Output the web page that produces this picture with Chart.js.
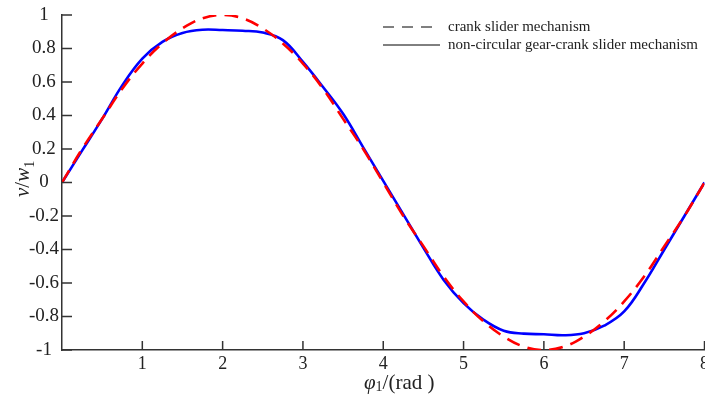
<!DOCTYPE html>
<html>
<head>
<meta charset="utf-8">
<script src="https://cdn.jsdelivr.net/npm/chart.js@4/dist/chart.umd.min.js"></script>
<style>
  html, body { margin: 0; padding: 0; background: #fff; overflow: hidden; }
  #wrap { width: 712px; height: 396px; }
</style>
</head>
<body>
<div id="wrap"><canvas id="c" width="712" height="396"></canvas></div>
<script>
/* velocity ratio v/w1 against crank angle, two mechanisms */
const AXIS = '#333333', INK = '#222222';
const SERIF = '"Liberation Serif","Times New Roman",serif';

const PHI = [0, 0.25, 0.5, 0.75, 1, 1.25, 1.5, 1.75, 2, 2.25, 2.5, 2.75, 3, 3.25, 3.5, 3.75, 4,
  4.25, 4.5, 4.75, 5, 5.25, 5.5, 5.75, 6, 6.25, 6.5, 6.75, 7, 7.25, 7.5, 7.75, 8];
const CRANK = [0, 0.2, 0.38, 0.56, 0.71, 0.83, 0.92, 0.98, 1, 0.98, 0.92, 0.83, 0.71, 0.56, 0.38, 0.2, 0,
  -0.2, -0.38, -0.56, -0.71, -0.83, -0.92, -0.98, -1, -0.98, -0.92, -0.83, -0.71, -0.56, -0.38, -0.2, 0];
const GEAR = [0, 0.19, 0.38, 0.58, 0.74, 0.84, 0.893, 0.912, 0.91, 0.906, 0.895, 0.85, 0.72, 0.57, 0.41, 0.21, 0.01,
  -0.19, -0.39, -0.58, -0.72, -0.82, -0.885, -0.902, -0.906, -0.912, -0.9, -0.855, -0.77, -0.6, -0.4, -0.2, 0];
const X_TICKS = [1, 2, 3, 4, 5, 6, 7, 8];
const Y_TICKS = [-1, -0.8, -0.6, -0.4, -0.2, 0, 0.2, 0.4, 0.6, 0.8, 1];
const LEGEND = [['crank slider mechanism', [11, 8]], ['non-circular gear-crank slider mechanism', []]];

const pts = ys => PHI.map((x, i) => ({ x, y: ys[i] }));

// inward ticks, axis titles and the black legend
const decor = {
  id: 'decor',
  afterDraw(chart) {
    const { ctx, chartArea: a, scales: { x, y } } = chart;
    ctx.save();
    ctx.strokeStyle = AXIS; ctx.lineWidth = 1.5;
    ctx.beginPath();
    X_TICKS.forEach(v => { const px = x.getPixelForValue(v); ctx.moveTo(px, a.bottom); ctx.lineTo(px, a.bottom - 9); });
    Y_TICKS.forEach(v => { const py = y.getPixelForValue(v); ctx.moveTo(a.left, py); ctx.lineTo(a.left + 10, py); });
    ctx.stroke();

    ctx.fillStyle = INK; ctx.textBaseline = 'alphabetic';
    // x title: φ1/(rad )
    ctx.font = 'italic 21px ' + SERIF;
    const x0 = 364, yb = 389;
    ctx.textAlign = 'left';
    ctx.fillText('φ', x0, yb);
    let w = ctx.measureText('φ').width;
    ctx.font = '14px ' + SERIF; ctx.fillText('1', x0 + w, yb + 2);
    w += ctx.measureText('1').width;
    ctx.font = '21px ' + SERIF; ctx.fillText('/(rad )', x0 + w, yb);

    // y title: v/w1 rotated
    ctx.translate(29, 197); ctx.rotate(-Math.PI / 2);
    ctx.font = 'italic 21px ' + SERIF; ctx.fillText('v', 0, 0);
    let t = ctx.measureText('v').width;
    ctx.font = '21px ' + SERIF; ctx.fillText('/', t, 0); t += ctx.measureText('/').width;
    ctx.font = 'italic 21px ' + SERIF; ctx.fillText('w', t, 0); t += ctx.measureText('w').width;
    ctx.font = '14px ' + SERIF; ctx.fillText('1', t, 5);
    ctx.setTransform(1, 0, 0, 1, 0, 0);

    // legend
    ctx.font = '15px ' + SERIF; ctx.textBaseline = 'middle';
    ctx.strokeStyle = '#000'; ctx.lineWidth = 1;
    LEGEND.forEach(([label, dash], i) => {
      const ly = 27 + i * 18;
      ctx.setLineDash(dash);
      ctx.beginPath(); ctx.moveTo(383, ly); ctx.lineTo(440, ly); ctx.stroke();
      ctx.setLineDash([]);
      ctx.fillText(label, 448, ly);
    });
    ctx.restore();
  }
};

new Chart('c', {
  type: 'line',
  data: {
    datasets: [
      { data: pts(CRANK), borderColor: '#ff0000', borderWidth: 2.6, borderDash: [14, 8],
        pointRadius: 0, tension: 0.4, fill: false },
      { data: pts(GEAR), borderColor: '#0000ff', borderWidth: 2.6,
        pointRadius: 0, tension: 0.4, fill: false }
    ]
  },
  options: {
    responsive: false, animation: false,
    layout: { padding: { top: 15, left: 0, right: 0, bottom: 0 } },
    plugins: { legend: { display: false }, tooltip: { enabled: false } },
    scales: {
      x: {
        type: 'linear', min: 0, max: 8,
        grid: { display: false, drawTicks: false },
        border: { display: true, color: AXIS, width: 1.5 },
        afterBuildTicks: s => { s.ticks = X_TICKS.map(v => ({ value: v })); },
        afterFit: s => { s.height = 46; },
        ticks: { color: INK, font: { family: SERIF, size: 18 }, padding: 3, maxRotation: 0 }
      },
      y: {
        min: -1, max: 1,
        grid: { display: false, drawTicks: false },
        border: { display: true, color: AXIS, width: 1.5 },
        afterBuildTicks: s => { s.ticks = Y_TICKS.map(v => ({ value: v })); },
        afterFit: s => { s.width = 62; },
        ticks: { color: INK, font: { family: SERIF, size: 19 }, crossAlign: 'center', padding: 3,
          callback: v => String(+v.toFixed(1)) }
      }
    }
  },
  plugins: [decor]
});
</script>
</body>
</html>
